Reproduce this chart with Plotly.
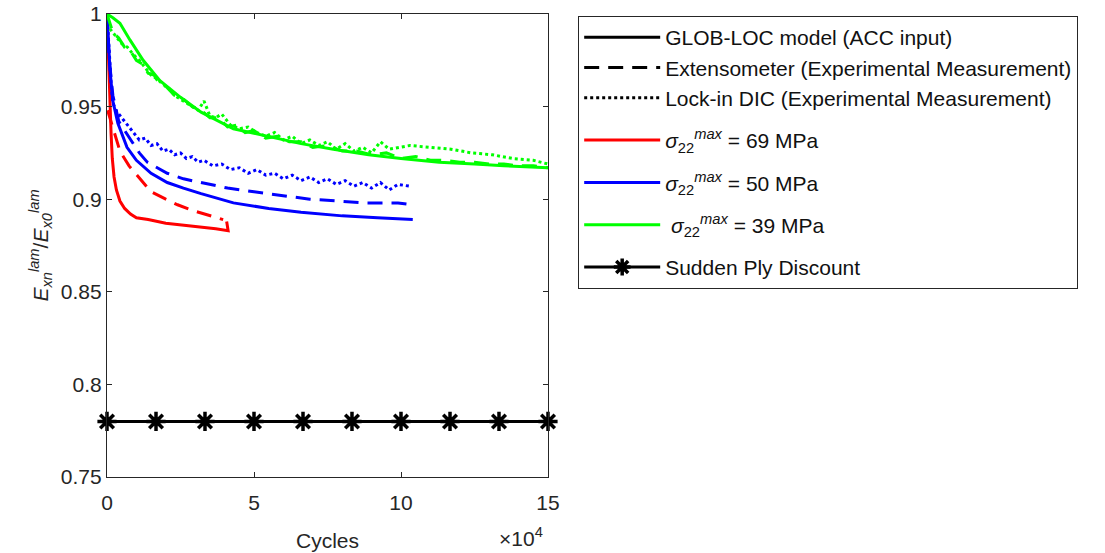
import plotly.graph_objects as go

# Cycles in units of 10^4, normalised laminate stiffness E_xn/E_x0

# sigma_22^max = 69 MPa
red_model_x = [0, 0.03, 0.06, 0.1, 0.14, 0.18, 0.24, 0.32, 0.44, 0.6, 0.8, 1.0, 1.4, 2.0, 2.6, 3.2, 3.7, 4.12, 4.07]
red_model_y = [1.0, 0.985, 0.965, 0.950, 0.935, 0.922, 0.912, 0.905, 0.899, 0.895, 0.892, 0.890, 0.889, 0.887, 0.886, 0.885, 0.884, 0.883, 0.888]
red_ext_x = [0.02, 0.2, 0.44, 0.75, 1.06, 1.5, 2.0, 2.4, 2.9, 3.3, 3.95]
red_ext_y = [0.948, 0.938, 0.926, 0.918, 0.912, 0.904, 0.900, 0.897, 0.894, 0.892, 0.889]

# sigma_22^max = 50 MPa
blue_model_x = [0, 0.05, 0.1, 0.2, 0.37, 0.68, 1.0, 1.5, 2.05, 2.6, 3.2, 4.3, 5.5, 6.6, 8.0, 9.2, 10.4]
blue_model_y = [1.0, 0.985, 0.970, 0.953, 0.941, 0.928, 0.921, 0.914, 0.909, 0.906, 0.903, 0.898, 0.895, 0.893, 0.891, 0.890, 0.889]
blue_ext_x = [0, 0.08, 0.2, 0.4, 0.85, 1.1, 1.37, 1.7, 2.05, 2.6, 3.2, 4.1, 5.0, 6.0, 6.9, 7.85, 8.7, 9.9, 10.4]
blue_ext_y = [1.0, 0.975, 0.956, 0.942, 0.931, 0.925, 0.920, 0.917, 0.914, 0.911, 0.909, 0.906, 0.904, 0.902, 0.900, 0.899, 0.898, 0.898, 0.897]
blue_dic_x = [0, 0.05, 0.1, 0.15, 0.2, 0.3, 0.5, 0.7, 0.9, 1.1, 1.3, 1.5, 1.7, 1.9, 2.1, 2.3, 2.5, 2.7, 2.9,
              3.1, 3.3, 3.6, 3.9, 4.2, 4.5, 4.8, 5.1, 5.4, 5.7, 6.0, 6.3, 6.6, 6.9, 7.2, 7.5, 7.8, 8.1,
              8.4, 8.7, 9.0, 9.3, 9.6, 9.9, 10.3]
blue_dic_y = [1.0, 0.985, 0.970, 0.960, 0.952, 0.948, 0.944, 0.940, 0.936, 0.932, 0.933, 0.929, 0.930, 0.926,
              0.927, 0.924, 0.925, 0.922, 0.923, 0.920, 0.921, 0.918, 0.919, 0.916, 0.917, 0.914, 0.916,
              0.913, 0.914, 0.911, 0.913, 0.910, 0.912, 0.909, 0.911, 0.908, 0.910, 0.907, 0.909, 0.906,
              0.909, 0.905, 0.908, 0.907]

# sigma_22^max = 39 MPa
green_model_x = [0, 0.2, 0.44, 0.78, 1.23, 1.8, 2.5, 3.2, 4.3, 5.4, 6.6, 7.7, 8.9, 10.0, 11.3, 12.5, 13.5, 15.0]
green_model_y = [1.0, 0.998, 0.995, 0.986, 0.975, 0.964, 0.955, 0.947, 0.938, 0.934, 0.930, 0.927, 0.924, 0.922, 0.920, 0.919, 0.918, 0.917]
green_ext_x = [0, 0.2, 0.4, 0.6, 0.8, 1.0, 1.2, 1.4, 1.6, 1.8, 2.0, 2.3, 2.6, 2.9, 3.2, 3.5, 3.8, 4.1, 4.4,
               4.7, 5.0, 5.4, 5.8, 6.2, 6.6, 7.0, 7.5, 8.0, 8.5, 9.0, 9.5, 10.0, 10.5, 11.0, 11.5, 12.0,
               12.5, 13.0, 13.5, 14.0, 14.5, 15.0]
green_ext_y = [1.0, 0.990, 0.987, 0.982, 0.980, 0.975, 0.973, 0.968, 0.967, 0.962, 0.961, 0.956, 0.954, 0.950,
               0.948, 0.944, 0.944, 0.939, 0.940, 0.936, 0.937, 0.933, 0.934, 0.931, 0.931, 0.928, 0.929,
               0.926, 0.926, 0.924, 0.925, 0.922, 0.923, 0.921, 0.921, 0.920, 0.920, 0.919, 0.919, 0.918,
               0.918, 0.917]
green_dic_x = [0.1, 0.3, 0.5, 0.7, 0.9, 1.1, 1.3, 1.5, 1.7, 1.9, 2.1, 2.3, 2.5, 2.7, 2.9, 3.1, 3.3, 3.5, 3.7,
               3.9, 4.2, 4.5, 4.8, 5.1, 5.4, 5.7, 6.0, 6.3, 6.6, 6.9, 7.2, 7.5, 7.8, 8.1, 8.4, 8.7, 9.0,
               9.3, 9.6, 9.9, 10.3, 11.0, 11.7, 12.4, 13.1, 13.8, 14.5, 15.0]
green_dic_y = [0.992, 0.988, 0.984, 0.982, 0.978, 0.975, 0.971, 0.967, 0.965, 0.962, 0.960, 0.956, 0.954,
               0.952, 0.950, 0.948, 0.953, 0.945, 0.944, 0.946, 0.940, 0.938, 0.939, 0.936, 0.934, 0.936,
               0.932, 0.934, 0.930, 0.932, 0.929, 0.931, 0.927, 0.930, 0.926, 0.928, 0.925, 0.931, 0.927,
               0.928, 0.929, 0.928, 0.927, 0.925, 0.924, 0.922, 0.921, 0.919]

# Sudden ply discount prediction (constant)
spd_x = [0, 1.667, 3.333, 5.0, 6.667, 8.333, 10.0, 11.667, 13.333, 15.0]
spd_y = [0.78] * 10

x_ticks = [0, 5, 10, 15]
x_tick_text = ["0", "5", "10", "15"]
y_ticks = [0.75, 0.8, 0.85, 0.9, 0.95, 1.0]
y_tick_text = ["0.75", "0.8", "0.85", "0.9", "0.95", "1"]

RED, BLUE, GREEN = "#ff0000", "#0000ff", "#00ff00"
FONT = "Liberation Sans, Arial, sans-serif"
LW = 3
DASH = "15px,9px"
DOT = "3px,3px"
STYLE = {"solid": "solid", "dash": DASH, "dot": DOT}

fig = go.Figure()


def curve(x, y, color, style, width=LW):
    fig.add_trace(go.Scatter(x=x, y=y, mode="lines", showlegend=False,
                             line=dict(color=color, dash=STYLE[style], width=width)))


curve(red_model_x, red_model_y, RED, "solid")
curve(red_ext_x, red_ext_y, RED, "dash")
curve(blue_model_x, blue_model_y, BLUE, "solid")
curve(blue_ext_x, blue_ext_y, BLUE, "dash")
curve(blue_dic_x, blue_dic_y, BLUE, "dot")
curve(green_ext_x, green_ext_y, GREEN, "dash")
curve(green_dic_x, green_dic_y, GREEN, "dot")
curve(green_model_x, green_model_y, GREEN, "solid")

fig.add_trace(go.Scatter(x=spd_x, y=spd_y, mode="lines+markers", showlegend=False,
                         line=dict(color="black", width=3),
                         marker=dict(symbol="asterisk-open", size=16,
                                     line=dict(color="black", width=3.5)),
                         cliponaxis=False))

# Legend entries (line-style key, load levels, ply discount)
SIG = "<i>σ</i><sub>22</sub><sup><i>max</i></sup>"
legend_items = [
    ("GLOB-LOC model (ACC input)", "black", "solid", "key"),
    ("Extensometer (Experimental Measurement)", "black", "dash", "key"),
    ("Lock-in DIC (Experimental Measurement)", "black", "dot", "key"),
    (SIG + " = 69 MPa", RED, "solid", "s69"),
    (SIG + " = 50 MPa", BLUE, "solid", "s50"),
    (" " + SIG + " = 39 MPa", GREEN, "solid", "s39"),
]
for name, color, style, group in legend_items:
    fig.add_trace(go.Scatter(x=[None], y=[None], mode="lines", name=name, legendgroup=group,
                             line=dict(color=color, dash=STYLE[style], width=3)))
fig.add_trace(go.Scatter(x=[None], y=[None], mode="lines+markers", name="Sudden Ply Discount",
                         legendgroup="spd",
                         line=dict(color="black", width=3),
                         marker=dict(symbol="asterisk-open", size=14,
                                     line=dict(color="black", width=3.5))))

axis_common = dict(showline=True, linecolor="#262626", linewidth=1.2, mirror="ticks",
                   ticks="inside", ticklen=5, tickcolor="#262626", showgrid=False,
                   zeroline=False, tickfont=dict(size=21, color="#262626", family=FONT))

fig.update_layout(
    width=1105, height=553,
    margin=dict(l=107, r=557, t=14, b=76, autoexpand=False),
    paper_bgcolor="white", plot_bgcolor="white",
    font=dict(family=FONT, size=21, color="#262626"),
    xaxis=dict(range=[0, 15], tickvals=x_ticks, ticktext=x_tick_text, ticklabelstandoff=7,
               title=dict(text="Cycles", font=dict(size=21), standoff=20), **axis_common),
    yaxis=dict(range=[0.75, 1.0], tickvals=y_ticks, ticktext=y_tick_text,
               title=dict(text="<i>E</i><sub><i>xn</i></sub><sup><i>lam</i></sup>/<i>E</i><sub><i>x0</i></sub><sup><i>lam</i></sup>",
                          font=dict(size=21), standoff=6), **axis_common),
    legend=dict(x=1.068, y=0.996, xanchor="left", yanchor="top",
                bordercolor="#262626", borderwidth=1.2, bgcolor="white",
                font=dict(size=21, color="#111", family=FONT),
                tracegroupgap=12, itemwidth=76),
    annotations=[dict(text="×10<sup>4</sup>", xref="paper", yref="paper", x=0.993, y=-0.162,
                      xanchor="right", yanchor="bottom", showarrow=False,
                      font=dict(size=21, color="#262626"))],
)

fig.write_html("out.html")
